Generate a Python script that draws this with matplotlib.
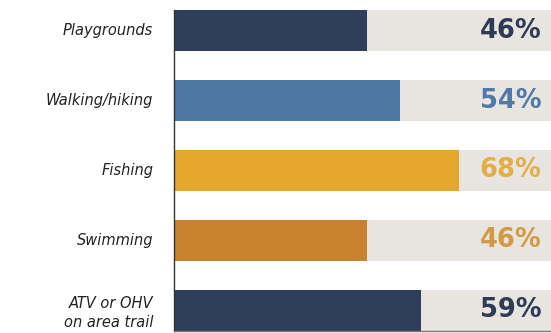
import matplotlib
matplotlib.use("Agg")
import matplotlib.pyplot as plt

categories = ["Playgrounds", "Walking/hiking", "Fishing", "Swimming", "ATV or OHV\non area trail"]
values = [46, 54, 68, 46, 59]
bar_colors = ["#2e3e5b", "#4e76a4", "#e2a72c", "#c8822f", "#2e3e5b"]
label_colors = ["#2f3a55", "#5079a8", "#e3ae48", "#d39a45", "#2f3a55"]
bg_color = "#e8e4df"

fig = plt.figure(figsize=(5.51, 3.33), dpi=100)
ax = fig.add_axes([174/551, 1 - 331/333, 377/551, 321/333])

y = list(range(len(categories)))
ax.barh(y, [100]*len(y), height=0.59, color=bg_color, zorder=1)
ax.barh(y, values, height=0.59, color=bar_colors, zorder=2)

ax.set_xlim(0, 90)
ax.set_ylim(len(y) - 1 + 0.295, -0.295)

for yi, v, c in zip(y, values, label_colors):
    ax.text(0.975, yi, f"{v}%", transform=ax.get_yaxis_transform(), ha="right", va="center",
            fontsize=18.5, fontweight="bold", color=c, zorder=3)

for yi, cat in zip(y, categories):
    off = 0.04 if "\n" in cat else 0
    ax.text(-0.055, yi + off, cat, transform=ax.get_yaxis_transform(), ha="right", va="center",
            fontsize=10.5, fontstyle="italic", color="#222222", linespacing=1.3)

ax.set_xticks([])
ax.set_yticks([])
for s in ["top", "right"]:
    ax.spines[s].set_visible(False)
ax.spines["left"].set_color("#333333")
ax.spines["left"].set_linewidth(1.0)
ax.spines["bottom"].set_color("#777777")
ax.spines["bottom"].set_linewidth(1.0)

fig.savefig("out.png", dpi=100)
